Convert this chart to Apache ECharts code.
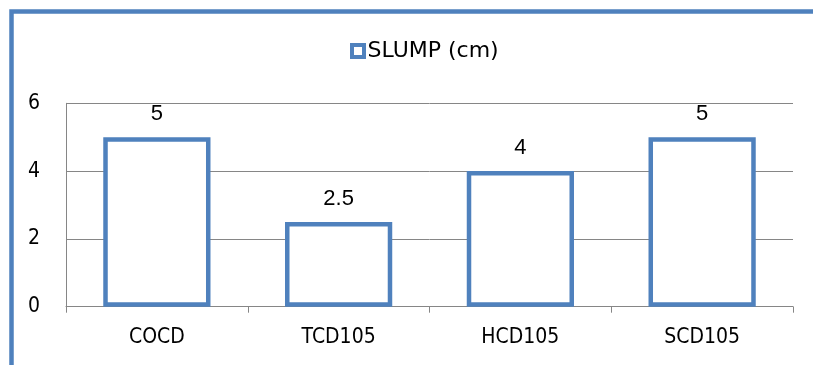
<!DOCTYPE html>
<html>
<head>
<meta charset="utf-8">
<script src="https://cdn.jsdelivr.net/npm/echarts@6/dist/echarts.min.js"></script>
<style>
html,body{margin:0;padding:0;background:#fff;}
#chart{width:813px;height:365px;}
</style>
</head>
<body>
<div id="chart"></div>
<script>
const categories = ['COCD', 'TCD105', 'HCD105', 'SCD105'];
const slumpValues = [5, 2.5, 4, 5];
const seriesName = 'SLUMP (cm)';
const yMin = 0, yMax = 6, yInterval = 2;

const blue = '#4F81BD';
const gridGray = '#868686';
const narrow = '"Liberation Sans Narrow", "DejaVu Sans Condensed", "Liberation Sans", Arial, sans-serif';

const chart = echarts.init(document.getElementById('chart'), null, {renderer: 'canvas'});
chart.setOption({
  animation: false,
  backgroundColor: '#fff',
  graphic: [{
    type: 'rect',
    shape: {x: 11.5, y: 11.5, width: 900, height: 500},
    style: {fill: 'none', stroke: blue, lineWidth: 4.5},
    z: 100
  }],
  legend: {
    show: true,
    left: 345,
    top: 35,
    itemWidth: 17,
    itemHeight: 16,
    icon: 'path://M0,0H16V16H0Z M4,4V12H12V4Z',
    itemStyle: {color: blue, borderWidth: 0},
    textStyle: {fontFamily: '"DejaVu Sans", sans-serif', fontSize: 22, color: '#000', padding: [0, 0, 0, -4]},
    data: [seriesName]
  },
  grid: {left: 66, right: 20, top: 103.3, bottom: 58.3, containLabel: false},
  xAxis: {
    type: 'category',
    data: categories,
    axisLine: {show: true, lineStyle: {color: gridGray, width: 1}},
    axisTick: {show: true, length: 6, interval: 0, lineStyle: {color: gridGray}},
    axisLabel: {margin: 20, color: '#000', fontSize: 21, fontFamily: narrow, interval: 0},
    splitLine: {show: false}
  },
  yAxis: {
    type: 'value',
    min: yMin, max: yMax, interval: yInterval,
    axisLine: {show: true, lineStyle: {color: gridGray, width: 1}},
    axisTick: {show: false},
    axisLabel: {margin: 26, color: '#000', fontSize: 21, fontFamily: narrow},
    splitLine: {show: true, lineStyle: {color: gridGray, width: 1}}
  },
  series: [{
    name: seriesName,
    type: 'bar',
    data: slumpValues,
    barWidth: '59%',
    itemStyle: {color: '#fff', borderColor: blue, borderWidth: 4.5},
    label: {
      show: true, position: 'top', distance: 12,
      color: '#000', fontSize: 22, fontFamily: '"Liberation Sans", Arial, sans-serif'
    }
  }]
});
</script>
</body>
</html>
